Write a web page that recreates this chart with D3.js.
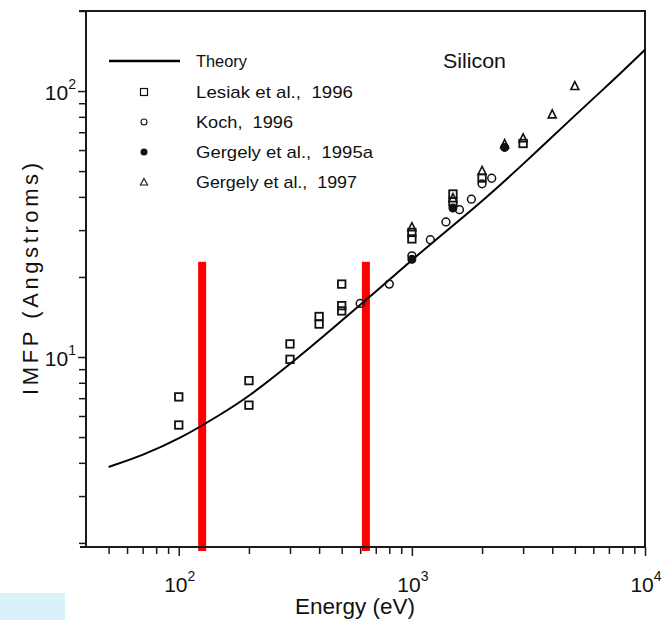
<!DOCTYPE html>
<html>
<head>
<meta charset="utf-8">
<script src="https://cdn.jsdelivr.net/npm/d3@7"></script>
<style>
  html, body { margin: 0; padding: 0; background: #fff; }
  svg { display: block; font-family: "Liberation Sans", Arial, Helvetica, sans-serif; }
</style>
</head>
<body>
<svg id="chart" width="663" height="620"></svg>
<script>
// Theory curve (IMFP vs electron energy, silicon)
const theoryEnergy = [50, 70, 100, 150, 200, 300, 400, 500, 700, 1000, 1500, 2000, 3000, 5000, 7000, 10000];
const theoryIMFP   = [3.86, 4.27, 4.9, 6.05, 7.1, 9.4, 11.6, 13.7, 17.6, 23.2, 31.2, 38.5, 53, 81, 106, 143];

// Measured data sets
const lesiakEnergy = [100, 100, 200, 200, 300, 300, 400, 400, 500, 500, 500, 1000, 1000, 1500, 1500, 2000, 3000];
const lesiakIMFP   = [7.08, 5.55, 8.15, 6.59, 11.2, 9.8, 14.2, 13.3, 18.8, 15.6, 14.9, 29.4, 27.8, 41.0, 38.3, 47.1, 63.5];

const kochEnergy = [600, 800, 1000, 1200, 1400, 1600, 1800, 2000, 2200];
const kochIMFP   = [15.9, 18.8, 24.0, 27.6, 32.2, 35.8, 39.2, 44.8, 47.0];

const gergely95Energy = [1000, 1500, 2500];
const gergely95IMFP   = [23.3, 36.3, 61.4];

const gergely97Energy = [1000, 1500, 2000, 2500, 3000, 4000, 5000];
const gergely97IMFP   = [30.8, 39.6, 50.1, 63.2, 66.5, 81.8, 104.5];

// Highlighted energies (red bands) and the IMFP level where they start
const bandEnergies = [126, 635];
const bandTopIMFP = 22.8;

// Axis ticks
const xMinorTicks = [50, 60, 70, 80, 90, 200, 300, 400, 500, 600, 700, 800, 900,
                     2000, 3000, 4000, 5000, 6000, 7000, 8000, 9000];
const xMajorTicks = [100, 1000, 10000];
const xMajorLabels = ["2", "3", "4"];
const yMinorTicks = [2, 3, 4, 5, 6, 7, 8, 9, 20, 30, 40, 50, 60, 70, 80, 90, 200];
const yMajorTicks = [10, 100];
const yMajorLabels = ["1", "2"];

const legendLabels = ["Theory", "Lesiak et al.,  1996", "Koch,  1996", "Gergely et al.,  1995a", "Gergely et al.,  1997"];

const svg = d3.select("#chart");
const L = 86, R = 645, T = 11, B = 547;

const x = d3.scaleLog().domain([40, 10000]).range([L, R]);
const y = d3.scaleLog().domain([1.93, 200]).range([B, T]);

// light panel in the lower-left corner
svg.append("rect").attr("x", 0).attr("y", 593).attr("width", 65).attr("height", 27).attr("fill", "#d9f1f8");

// Red bands
svg.append("g").selectAll("rect").data(bandEnergies).join("rect")
  .attr("x", d => x(d) - 4).attr("width", 8)
  .attr("y", y(bandTopIMFP)).attr("height", B + 4 - y(bandTopIMFP))
  .attr("fill", "#ff0000");

// Axes ticks
const axisColor = "#1a1a1a";
function styleAxis(g) {
  g.select(".domain").remove();
  g.selectAll(".tick line").attr("stroke", axisColor).attr("stroke-width", 1.5);
}
svg.append("g").attr("transform", `translate(0,${B})`)
  .call(d3.axisBottom(x).tickValues(xMinorTicks).tickSize(7).tickFormat(""))
  .call(styleAxis);
svg.append("g").attr("transform", `translate(0,${B})`)
  .call(d3.axisBottom(x).tickValues(xMajorTicks).tickSize(9).tickFormat(""))
  .call(styleAxis);
svg.append("g").attr("transform", `translate(${L},0)`)
  .call(d3.axisLeft(y).tickValues(yMinorTicks).tickSize(7).tickFormat(""))
  .call(styleAxis);
svg.append("g").attr("transform", `translate(${L},0)`)
  .call(d3.axisLeft(y).tickValues(yMajorTicks).tickSize(8).tickFormat(""))
  .call(styleAxis);

// Frame
const frame = svg.append("g").attr("stroke", axisColor).attr("stroke-width", 2).attr("fill", "none");
frame.append("line").attr("x1", L - 7).attr("x2", R).attr("y1", T).attr("y2", T);
frame.append("line").attr("x1", L - 6).attr("x2", R).attr("y1", B).attr("y2", B);
frame.append("line").attr("x1", L).attr("x2", L).attr("y1", T).attr("y2", B);
frame.append("line").attr("x1", R).attr("x2", R).attr("y1", T - 1).attr("y2", B);

// Tick labels (powers of ten)
xMajorTicks.forEach((v, i) => {
  const t = svg.append("text").attr("x", x(v) + 1).attr("y", 592)
    .attr("text-anchor", "middle").attr("font-size", 21).attr("fill", "#111");
  t.append("tspan").text("10");
  t.append("tspan").attr("dy", -11).attr("font-size", 14).text(xMajorLabels[i]);
});
yMajorTicks.forEach((v, i) => {
  const t = svg.append("text").attr("x", 76).attr("y", y(v) + 9)
    .attr("text-anchor", "end").attr("font-size", 21).attr("fill", "#111");
  t.append("tspan").text("10");
  t.append("tspan").attr("dy", -11).attr("font-size", 14).text(yMajorLabels[i]);
});

// Axis titles
svg.append("text").attr("x", 355).attr("y", 614).attr("text-anchor", "middle")
  .attr("font-size", 22).attr("fill", "#111")
  .attr("textLength", 120).attr("lengthAdjust", "spacingAndGlyphs")
  .text("Energy (eV)");
svg.append("text").attr("transform", "translate(38,279) rotate(-90)")
  .attr("text-anchor", "middle").attr("font-size", 22).attr("fill", "#111")
  .attr("textLength", 232).attr("lengthAdjust", "spacing")
  .text("IMFP (Angstroms)");

// Theory curve
const theory = theoryEnergy.map((e, i) => [e, theoryIMFP[i]]);
svg.append("path").datum(theory)
  .attr("fill", "none").attr("stroke", "#000").attr("stroke-width", 2)
  .attr("d", d3.line().x(d => x(d[0])).y(d => y(d[1])).curve(d3.curveBasis));

// Marker symbols
const markerStroke = "#111";
function drawSquares(g, pts, s, sw) {
  g.selectAll(null).data(pts).join("rect")
    .attr("x", d => x(d[0]) - s / 2).attr("y", d => y(d[1]) - s / 2)
    .attr("width", s).attr("height", s)
    .attr("fill", "none").attr("stroke", markerStroke).attr("stroke-width", sw);
}
function drawCircles(g, pts, r, sw, filled) {
  g.selectAll(null).data(pts).join("circle")
    .attr("cx", d => x(d[0])).attr("cy", d => y(d[1])).attr("r", r)
    .attr("fill", filled ? markerStroke : "#fff").attr("fill-opacity", filled ? 1 : 0)
    .attr("stroke", markerStroke).attr("stroke-width", sw);
}
function drawTriangles(g, pts, s, sw) {
  g.selectAll(null).data(pts).join("path")
    .attr("transform", d => `translate(${x(d[0])},${y(d[1])})`)
    .attr("d", `M0,${-s * 0.55}L${s / 2},${s * 0.45}L${-s / 2},${s * 0.45}Z`)
    .attr("fill", "none").attr("stroke", markerStroke).attr("stroke-width", sw);
}
const zip = (a, b) => a.map((v, i) => [v, b[i]]);
const marks = svg.append("g");
drawSquares(marks.append("g"), zip(lesiakEnergy, lesiakIMFP), 7.5, 1.8);
drawCircles(marks.append("g"), zip(kochEnergy, kochIMFP), 3.9, 1.5, false);
drawCircles(marks.append("g"), zip(gergely95Energy, gergely95IMFP), 3.9, 1.2, true);
drawTriangles(marks.append("g"), zip(gergely97Energy, gergely97IMFP), 8, 1.6);

// Legend
const lg = svg.append("g");
const rowY = [61, 92, 122, 152, 182];
const textW = [51, 157, 97, 177, 161];
lg.append("line").attr("x1", 109).attr("x2", 180).attr("y1", rowY[0]).attr("y2", rowY[0])
  .attr("stroke", "#000").attr("stroke-width", 2.5);
lg.append("rect").attr("x", 140.5).attr("y", rowY[1] - 3.5).attr("width", 7).attr("height", 7)
  .attr("fill", "none").attr("stroke", markerStroke).attr("stroke-width", 1.2);
lg.append("circle").attr("cx", 144).attr("cy", rowY[2]).attr("r", 3)
  .attr("fill", "none").attr("stroke", markerStroke).attr("stroke-width", 1.1);
lg.append("circle").attr("cx", 144).attr("cy", rowY[3]).attr("r", 3.5)
  .attr("fill", markerStroke);
lg.append("path").attr("transform", `translate(144,${rowY[4]})`)
  .attr("d", "M0,-3.6L3.6,3L-3.6,3Z").attr("fill", "none")
  .attr("stroke", markerStroke).attr("stroke-width", 1.1);
legendLabels.forEach((s, i) => {
  lg.append("text").attr("x", 196).attr("y", rowY[i] + 6)
    .attr("font-size", 17).attr("fill", "#111")
    .attr("textLength", textW[i]).attr("lengthAdjust", "spacingAndGlyphs")
    .attr("xml:space", "preserve").style("white-space", "pre")
    .text(s);
});

// Material label
svg.append("text").attr("x", 443).attr("y", 68).attr("font-size", 21).attr("fill", "#111")
  .attr("textLength", 63).attr("lengthAdjust", "spacingAndGlyphs")
  .text("Silicon");
</script>
</body>
</html>
